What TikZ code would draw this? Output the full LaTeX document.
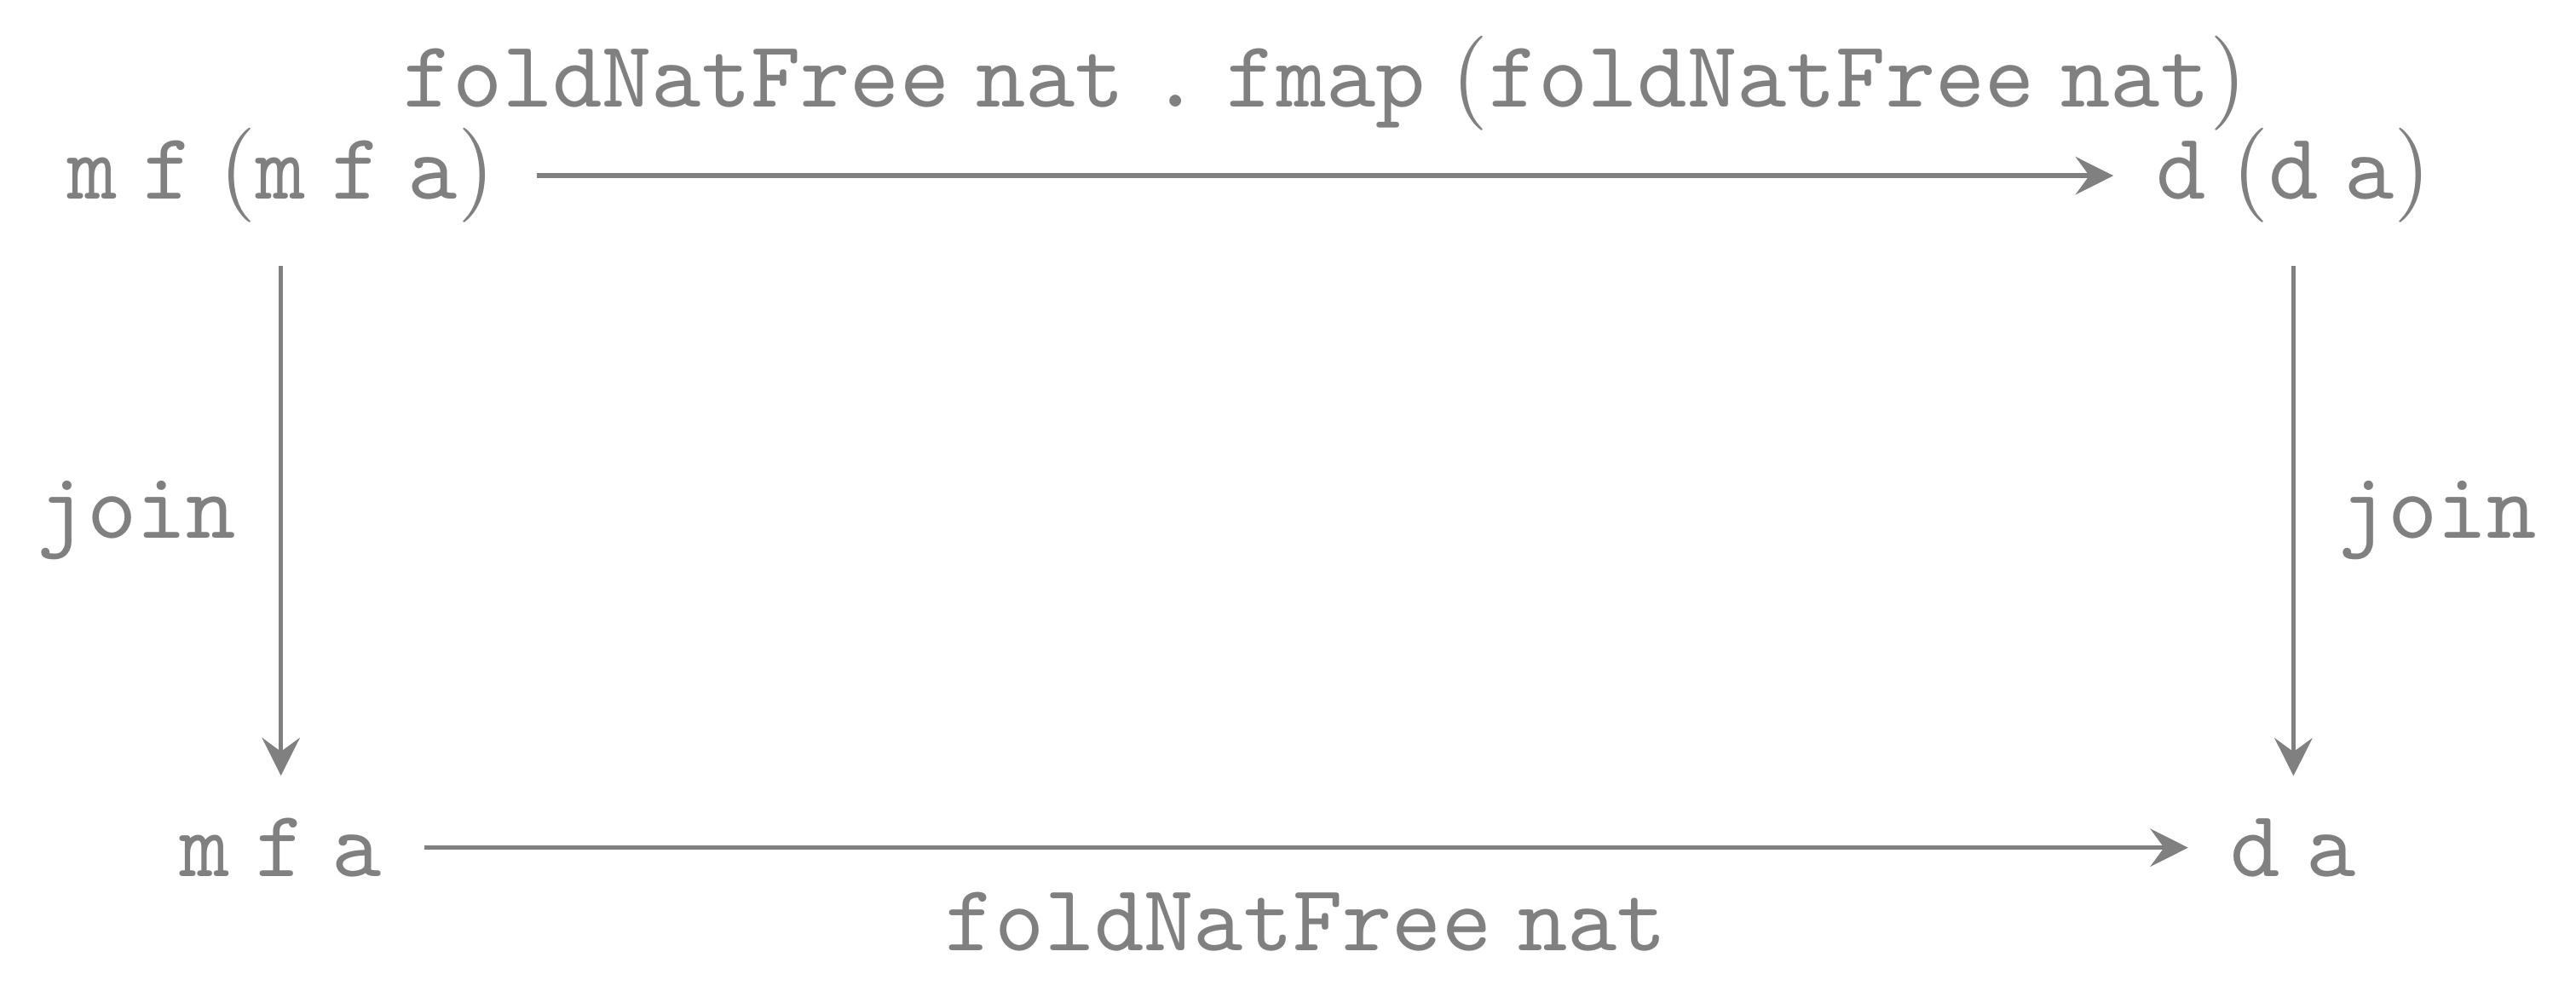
\documentclass[tikz,border=0pt]{standalone}
\usetikzlibrary{arrows.meta}

\begin{document}
\begin{tikzpicture}[
    obj/.style={gray, inner sep=4.5pt, outer sep=0pt},
    arr/.style={gray, line width=0.5pt, -{Stealth[length=4pt,width=4pt,inset=1.45pt]}},
    lbl/.style={gray, inner sep=4.5pt}
  ]
    % Khung hình
    \useasboundingbox (0,0) rectangle (9.573,3.663);

    % Định nghĩa tọa độ các đỉnh
    \coordinate (P) at (1.044,3.010);
    \coordinate (Q) at (8.523,3.010);
    \coordinate (R) at (1.044,0.513);
    \coordinate (S) at (8.523,0.513);

    % Các đối tượng
    \node[obj] (mfmfa) at (P) {$\texttt{m}\;\texttt{f}\;(\texttt{m}\;\texttt{f}\;\texttt{a})$};
    \node[obj] (dda) at (Q) {$\texttt{d}\;(\texttt{d}\;\texttt{a})$};
    \node[obj] (mfa) at (R) {$\texttt{m}\;\texttt{f}\;\texttt{a}$};
    \node[obj] (da) at (S) {$\texttt{d}\;\texttt{a}$};

    % Các mũi tên và nhãn
    \draw[arr] (mfmfa) -- node[lbl, above] (toplbl) {$\texttt{foldNatFree}\;\texttt{nat}\;\texttt{.}\;\texttt{fmap}\;(\texttt{foldNatFree}\;\texttt{nat})$} (dda);
    \draw[arr] (mfmfa) -- node[lbl, left] (leftlbl) {$\texttt{join}$} (mfa);
    \draw[arr] (dda) -- node[lbl, right] (rightlbl) {$\texttt{join}$} (da);
    \draw[arr] (mfa) -- node[lbl, below] (botlbl) {$\texttt{foldNatFree}\;\texttt{nat}$} (da);
\end{tikzpicture}
\end{document}
